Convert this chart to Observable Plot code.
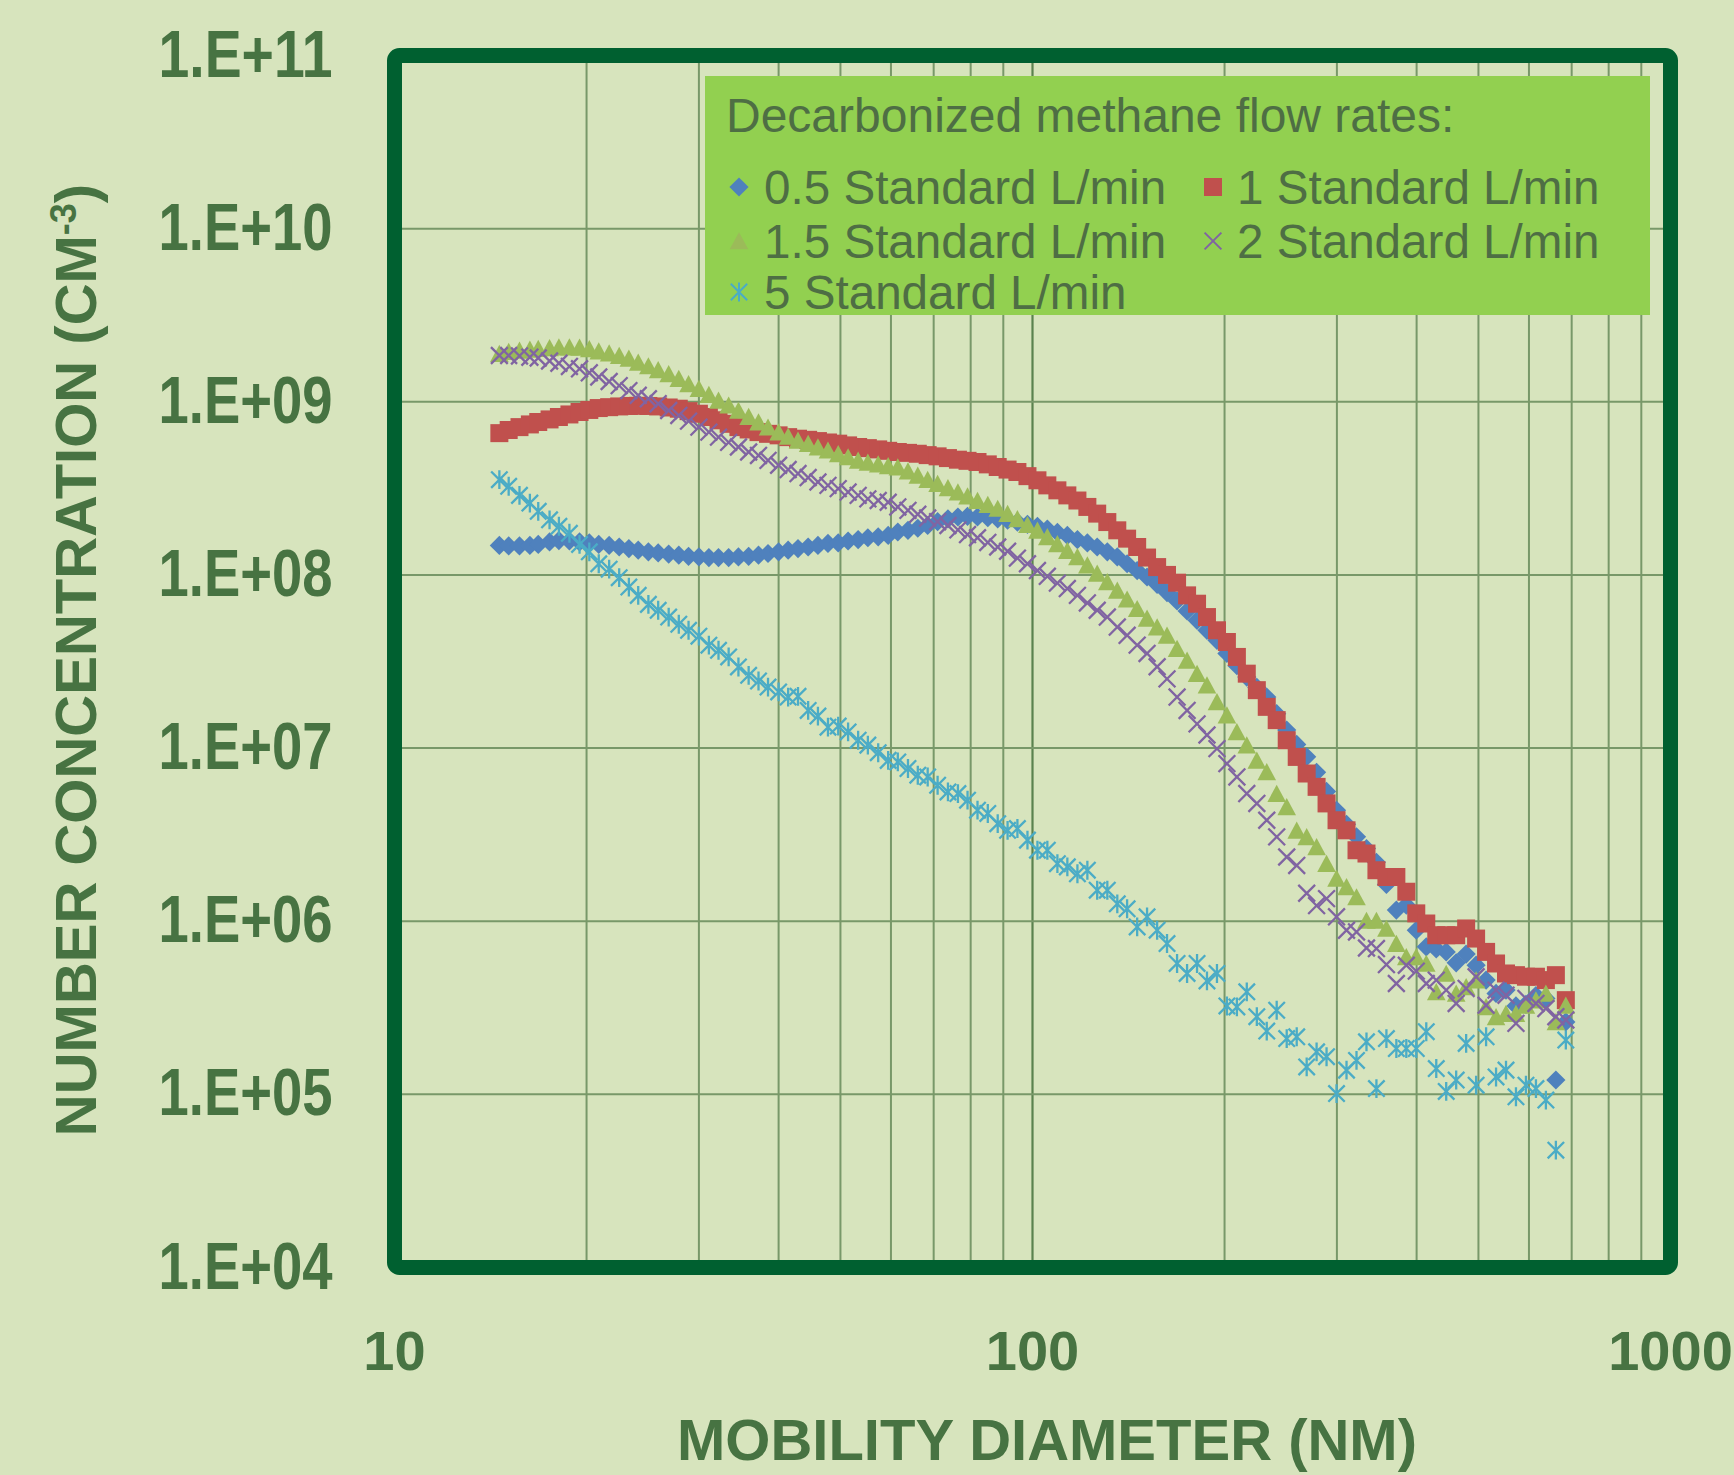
<!DOCTYPE html>
<html>
<head>
<meta charset="utf-8">
<script src="https://cdn.jsdelivr.net/npm/d3@7"></script>
<script src="https://cdn.jsdelivr.net/npm/@observablehq/plot@0.6"></script>
<style>
html, body { margin: 0; padding: 0; background: #D7E4BD; }
#chart { position: relative; width: 1734px; height: 1475px; overflow: hidden; background: #D7E4BD; }
</style>
</head>
<body>
<div id="chart"></div>
<script>
// Mobility diameter bins (nm)
const diameters = [
  14.6,15.1,15.7,16.3,16.8,17.5,18.1,18.8,19.5,20.2,
  20.9,21.7,22.5,23.3,24.1,25.0,25.9,26.9,27.9,28.9,
  30.0,31.1,32.2,33.4,34.6,35.9,37.2,38.5,40.0,41.4,
  42.9,44.5,46.1,47.8,49.6,51.4,53.3,55.2,57.3,59.4,
  61.5,63.8,66.1,68.5,71.0,73.7,76.4,79.1,82.0,85.1,
  88.2,91.4,94.7,98.2,101.8,105.5,109.4,113.4,117.6,121.9,
  126.3,131.0,135.8,140.7,145.9,151.2,156.8,162.5,168.5,174.7,
  181.1,187.7,194.6,201.7,209.1,216.7,224.7,232.9,241.4,250.3,
  259.5,269.0,278.8,289.0,299.6,310.6,322.0,333.8,346.0,358.7,
  371.8,385.4,399.5,414.2,429.4,445.1,461.4,478.3,495.8,514.0,
  532.8,552.3,572.5,593.5,615.3,637.8,661.2,685.4
];

// Number concentrations (cm^-3)
const flow05 = [
  1.48e8,1.47e8,1.47e8,1.48e8,1.50e8,1.55e8,1.58e8,1.57e8,1.55e8,1.53e8,
  1.50e8,1.48e8,1.45e8,1.42e8,1.39e8,1.36e8,1.34e8,1.32e8,1.30e8,1.28e8,
  1.27e8,1.26e8,1.26e8,1.26e8,1.27e8,1.28e8,1.30e8,1.33e8,1.36e8,1.39e8,
  1.42e8,1.45e8,1.48e8,1.52e8,1.53e8,1.57e8,1.60e8,1.64e8,1.66e8,1.69e8,
  1.77e8,1.81e8,1.86e8,1.93e8,2.03e8,2.11e8,2.16e8,2.18e8,2.16e8,2.14e8,
  2.11e8,2.07e8,2.02e8,1.96e8,1.91e8,1.84e8,1.76e8,1.69e8,1.60e8,1.53e8,
  1.45e8,1.36e8,1.27e8,1.16e8,1.06e8,9.73e7,8.83e7,7.91e7,7.08e7,6.19e7,
  5.47e7,4.79e7,4.19e7,3.52e7,2.99e7,2.57e7,2.24e7,1.97e7,1.58e7,1.27e7,
  1.05e7,8.91e6,7.24e6,5.62e6,4.37e6,3.63e6,3.07e6,2.63e6,2.19e6,1.63e6,
  1.16e6,1.24e6,8.87e5,7.11e5,6.92e5,6.65e5,5.75e5,6.46e5,5.57e5,4.57e5,
  3.83e5,4.00e5,3.24e5,3.31e5,3.72e5,3.58e5,1.21e5,2.62e5
];
const flow1 = [
  6.59e8,6.87e8,7.14e8,7.40e8,7.64e8,7.91e8,8.17e8,8.45e8,8.73e8,8.97e8,
  9.20e8,9.31e8,9.40e8,9.46e8,9.48e8,9.46e8,9.40e8,9.27e8,9.12e8,8.83e8,
  8.53e8,8.17e8,7.82e8,7.46e8,7.14e8,6.92e8,6.68e8,6.53e8,6.40e8,6.25e8,
  6.12e8,6.03e8,5.93e8,5.82e8,5.73e8,5.60e8,5.48e8,5.40e8,5.31e8,5.21e8,
  5.13e8,5.07e8,5.01e8,4.92e8,4.84e8,4.73e8,4.63e8,4.56e8,4.49e8,4.35e8,
  4.20e8,4.06e8,3.93e8,3.72e8,3.52e8,3.29e8,3.08e8,2.88e8,2.69e8,2.47e8,
  2.26e8,2.02e8,1.81e8,1.62e8,1.45e8,1.26e8,1.11e8,1.00e8,9.02e7,7.62e7,
  6.82e7,5.71e7,4.79e7,4.10e7,3.36e7,2.69e7,2.16e7,1.73e7,1.45e7,1.11e7,
  8.89e6,7.13e6,5.97e6,4.79e6,3.83e6,3.35e6,2.57e6,2.46e6,1.97e6,1.80e6,
  1.80e6,1.48e6,1.11e6,9.70e5,8.30e5,8.30e5,8.30e5,9.08e5,7.94e5,6.65e5,
  5.70e5,4.99e5,4.88e5,4.78e5,4.78e5,4.57e5,4.88e5,3.50e5
];
const flow15 = [
  1.90e9,1.95e9,1.98e9,2.01e9,2.03e9,2.05e9,2.07e9,2.07e9,2.06e9,2.02e9,
  1.96e9,1.91e9,1.85e9,1.78e9,1.69e9,1.61e9,1.53e9,1.45e9,1.36e9,1.27e9,
  1.19e9,1.10e9,1.02e9,9.55e8,8.91e8,8.22e8,7.64e8,7.13e8,6.68e8,6.31e8,
  5.98e8,5.73e8,5.48e8,5.25e8,5.01e8,4.80e8,4.59e8,4.47e8,4.37e8,4.27e8,
  4.20e8,3.98e8,3.76e8,3.55e8,3.37e8,3.18e8,3.01e8,2.85e8,2.69e8,2.55e8,
  2.42e8,2.26e8,2.11e8,1.95e8,1.81e8,1.66e8,1.51e8,1.38e8,1.27e8,1.14e8,
  1.02e8,9.12e7,8.15e7,7.24e7,6.38e7,5.62e7,5.00e7,4.48e7,3.75e7,3.21e7,
  2.69e7,2.31e7,1.85e7,1.55e7,1.24e7,1.04e7,8.49e6,7.28e6,5.46e6,4.57e6,
  3.35e6,3.07e6,2.69e6,2.15e6,1.77e6,1.58e6,1.38e6,1.01e6,1.01e6,9.08e5,
  7.43e5,6.22e5,6.22e5,5.70e5,3.91e5,4.99e5,3.83e5,4.18e5,4.57e5,3.20e5,
  2.80e5,2.93e5,2.93e5,3.27e5,3.50e5,3.83e5,2.62e5,3.27e5
];
const flow2 = [
  1.85e9,1.85e9,1.84e9,1.81e9,1.79e9,1.72e9,1.67e9,1.60e9,1.55e9,1.47e9,
  1.39e9,1.31e9,1.24e9,1.16e9,1.09e9,1.04e9,9.75e8,8.91e8,8.34e8,7.73e8,
  7.14e8,6.68e8,6.25e8,5.83e8,5.48e8,5.13e8,4.90e8,4.59e8,4.30e8,4.06e8,
  3.85e8,3.65e8,3.44e8,3.29e8,3.15e8,3.01e8,2.88e8,2.75e8,2.69e8,2.63e8,
  2.47e8,2.36e8,2.24e8,2.13e8,2.03e8,1.93e8,1.82e8,1.71e8,1.64e8,1.54e8,
  1.45e8,1.37e8,1.25e8,1.16e8,1.06e8,9.82e7,8.97e7,8.34e7,7.62e7,6.89e7,
  6.25e7,5.71e7,5.00e7,4.48e7,3.93e7,3.52e7,2.95e7,2.51e7,1.97e7,1.65e7,
  1.38e7,1.19e7,9.93e6,8.13e6,6.81e6,5.46e6,4.79e6,3.83e6,3.07e6,2.35e6,
  2.10e6,1.45e6,1.23e6,1.35e6,1.06e6,8.87e5,8.67e5,7.00e5,6.95e5,5.62e5,
  4.37e5,5.57e5,5.15e5,4.37e5,4.57e5,4.00e5,3.35e5,4.09e5,4.78e5,3.27e5,
  4.00e5,3.74e5,2.57e5,3.58e5,3.35e5,3.13e5,2.81e5,2.69e5
];
const flow5 = [
  3.55e8,3.25e8,2.88e8,2.60e8,2.33e8,2.08e8,1.91e8,1.74e8,1.50e8,1.36e8,
  1.16e8,1.08e8,9.64e7,8.51e7,7.62e7,6.76e7,6.25e7,5.71e7,5.19e7,4.79e7,
  4.43e7,3.93e7,3.67e7,3.36e7,2.94e7,2.63e7,2.44e7,2.25e7,2.11e7,1.97e7,
  1.99e7,1.65e7,1.53e7,1.32e7,1.34e7,1.24e7,1.11e7,1.04e7,9.40e6,8.49e6,
  8.32e6,7.62e6,6.97e6,6.81e6,6.10e6,5.58e6,5.46e6,5.00e6,4.38e6,4.19e6,
  3.66e6,3.35e6,3.43e6,2.94e6,2.57e6,2.57e6,2.15e6,2.06e6,1.88e6,1.97e6,
  1.51e6,1.51e6,1.26e6,1.18e6,9.27e5,1.06e6,8.87e5,7.43e5,5.70e5,4.99e5,
  5.70e5,4.52e5,4.99e5,3.24e5,3.20e5,3.91e5,2.81e5,2.32e5,3.06e5,2.10e5,
  2.15e5,1.44e5,1.76e5,1.65e5,1.01e5,1.38e5,1.57e5,2.01e5,1.08e5,2.10e5,
  1.84e5,1.84e5,1.84e5,2.30e5,1.41e5,1.04e5,1.21e5,1.97e5,1.13e5,2.15e5,
  1.26e5,1.38e5,9.68e4,1.13e5,1.08e5,9.27e4,4.76e4,2.06e5
];

const seriesNames = ["0.5 Standard L/min", "1 Standard L/min", "1.5 Standard L/min", "2 Standard L/min", "5 Standard L/min"];
const legendTitle = "Decarbonized methane flow rates:";
const xTitle = "MOBILITY DIAMETER (NM)";
const yTitleMain = "NUMBER CONCENTRATION (CM";
const yTitleSup = "-3";
const yTitleEnd = ")";

const xTicks = [10, 100, 1000];
const xTickLabels = ["10", "100", "1000"];
const yTicks = [1e4, 1e5, 1e6, 1e7, 1e8, 1e9, 1e10, 1e11];
const yTickLabels = ["1.E+04", "1.E+05", "1.E+06", "1.E+07", "1.E+08", "1.E+09", "1.E+10", "1.E+11"];
const xMinorGrid = [20, 30, 40, 50, 60, 70, 80, 90, 200, 300, 400, 500, 600, 700, 800, 900];
const xMajorGrid = [100];
const yGrid = [1e5, 1e6, 1e7, 1e8, 1e9, 1e10];

// styles
const colors = ["#4F81BD", "#C0504D", "#9BBB59", "#8064A2", "#4BACC6"];
const textColor = "#477342";
const legendTextColor = "#4E6E44";
const gridColor = "#789869";
const frameColor = "#006030";

// custom marker shapes (Excel-like), fixed pixel half-sizes
const makeDiamond = h => ({ draw(ctx) { ctx.moveTo(0, -h); ctx.lineTo(h, 0); ctx.lineTo(0, h); ctx.lineTo(-h, 0); ctx.closePath(); } });
const makeSquare = h => ({ draw(ctx) { ctx.moveTo(-h, -h); ctx.lineTo(h, -h); ctx.lineTo(h, h); ctx.lineTo(-h, h); ctx.closePath(); } });
const makeTriangle = h => ({ draw(ctx) { ctx.moveTo(0, -0.95 * h); ctx.lineTo(h, 0.9 * h); ctx.lineTo(-h, 0.9 * h); ctx.closePath(); } });
const makeTimes = h => ({ draw(ctx) { ctx.moveTo(-h, -h); ctx.lineTo(h, h); ctx.moveTo(h, -h); ctx.lineTo(-h, h); } });
const makeStar = h => ({ draw(ctx) { ctx.moveTo(-h, -h); ctx.lineTo(h, h); ctx.moveTo(h, -h); ctx.lineTo(-h, h); ctx.moveTo(0, -1.15 * h); ctx.lineTo(0, 1.15 * h); } });

const seriesDefs = [
  { values: flow05, sym: makeDiamond(9.6), filled: true },
  { values: flow1, sym: makeSquare(9.0), filled: true },
  { values: flow15, sym: makeTriangle(9.3), filled: true },
  { values: flow2, sym: makeTimes(8.4), filled: false },
  { values: flow5, sym: makeStar(8.2), filled: false }
];

const dotMarks = seriesDefs.map((s, k) => Plot.dot(diameters, {
  x: diameters,
  y: s.values,
  symbol: s.sym,
  r: 5,
  fill: s.filled ? colors[k] : "none",
  stroke: s.filled ? "none" : colors[k],
  strokeWidth: s.filled ? 0 : 2.3
}));

const plot = Plot.plot({
  width: 1734,
  height: 1475,
  marginLeft: 394,
  marginRight: 64,
  marginTop: 55,
  marginBottom: 208,
  style: { background: "transparent", fontFamily: "'Liberation Sans', Arial, sans-serif", overflow: "visible" },
  x: { type: "log", domain: [10, 1000] },
  y: { type: "log", domain: [1e4, 1e11] },
  marks: [
    Plot.gridX(xMinorGrid, { stroke: gridColor, strokeOpacity: 1, strokeWidth: 2 }),
    Plot.gridX(xMajorGrid, { stroke: "#5A824E", strokeOpacity: 1, strokeWidth: 2.2 }),
    Plot.gridY(yGrid, { stroke: gridColor, strokeOpacity: 1, strokeWidth: 2 }),
    ...dotMarks,
    Plot.frame({ stroke: frameColor, strokeWidth: 15, rx: 5 }),
    Plot.axisX(xTicks, {
      tickFormat: d => xTickLabels[xTicks.indexOf(d)],
      tickSize: 0, tickPadding: 63, fontSize: 56, fontWeight: "bold",
      color: textColor, label: null
    }),
    Plot.axisY(yTicks, {
      tickFormat: d => yTickLabels[yTicks.indexOf(d)],
      tickSize: 0, tickPadding: 62, fontSize: 66, fontWeight: "bold",
      color: textColor, label: null
    })
  ]
});

document.getElementById("chart").appendChild(plot);
const svg = d3.select(plot);

// condensed y tick labels
svg.selectAll('g[aria-label="y-axis tick label"] text')
  .attr("font-family", "'Liberation Sans Narrow', 'Liberation Sans', Arial, sans-serif")
  .attr("textLength", 174)
  .attr("lengthAdjust", "spacingAndGlyphs");

// axis titles
svg.append("text")
  .attr("x", 1047).attr("y", 1460)
  .attr("text-anchor", "middle")
  .attr("font-family", "'Liberation Sans', Arial, sans-serif")
  .attr("font-weight", "bold").attr("font-size", 58)
  .attr("fill", textColor)
  .text(xTitle);

const yt = svg.append("text")
  .attr("transform", "translate(96,660) rotate(-90)")
  .attr("text-anchor", "middle")
  .attr("font-family", "'Liberation Sans', Arial, sans-serif")
  .attr("font-weight", "bold").attr("font-size", 58)
  .attr("fill", textColor);
yt.append("tspan").text(yTitleMain);
yt.append("tspan").attr("dy", -20).attr("font-size", 36).text(yTitleSup);
yt.append("tspan").attr("dy", 20).text(yTitleEnd);

// legend
const lg = svg.append("g")
  .attr("font-family", "'Liberation Sans', Arial, sans-serif")
  .attr("text-anchor", "start");
lg.append("rect").attr("x", 705).attr("y", 76).attr("width", 945).attr("height", 239).attr("fill", "#92D050");
lg.append("text").attr("x", 726).attr("y", 132).attr("font-size", 48).attr("text-anchor", "start")
  .attr("fill", legendTextColor).text(legendTitle);
const legendPos = [
  { sx: 739, tx: 764, cy: 187 },
  { sx: 1213, tx: 1237, cy: 187 },
  { sx: 739, tx: 764, cy: 241 },
  { sx: 1213, tx: 1237, cy: 241 },
  { sx: 739, tx: 764, cy: 292 }
];
seriesDefs.forEach((s, k) => {
  const p = legendPos[k];
  const path = d3.symbol(s.sym)();
  lg.append("path")
    .attr("d", path)
    .attr("transform", `translate(${p.sx},${p.cy})`)
    .attr("fill", s.filled ? colors[k] : "none")
    .attr("stroke", s.filled ? "none" : colors[k])
    .attr("stroke-width", s.filled ? 0 : 2);
  lg.append("text").attr("x", p.tx).attr("y", p.cy + 17).attr("font-size", 47.6).attr("text-anchor", "start")
    .attr("fill", legendTextColor).text(seriesNames[k]);
});
</script>
</body>
</html>
